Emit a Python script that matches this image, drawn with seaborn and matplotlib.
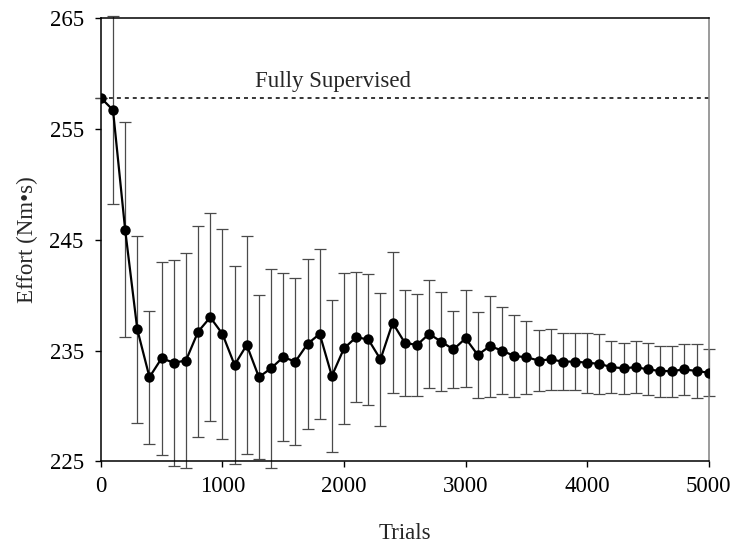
import numpy as np
import pandas as pd
import matplotlib
matplotlib.use("Agg")
import matplotlib.pyplot as plt
import seaborn as sns

# ----------------------------
# DANE
# ----------------------------
trials = list(range(0, 5001, 100))

effort = [
    257.8, 256.7, 245.9, 236.9, 232.6, 234.3, 233.9, 234.1, 236.7, 238.0,
    236.5, 233.7, 235.5, 232.6, 233.4, 234.4, 234.0, 235.6, 236.5, 232.7,
    235.2, 236.2, 236.0, 234.2, 237.5, 235.7, 235.5, 236.5, 235.8, 235.1,
    236.1, 234.6, 235.4, 235.0, 234.5, 234.4, 234.1, 234.2, 234.0, 234.0,
    233.9, 233.8, 233.5, 233.4, 233.5, 233.3, 233.15, 233.15, 233.3, 233.15,
    233.0,
]

effort_sd = [
    0.0, 8.5, 9.7, 8.4, 6.0, 8.7, 9.3, 9.7, 9.5, 9.4,
    9.45, 8.9, 9.8, 7.4, 9.0, 7.6, 7.5, 7.7, 7.65, 6.85,
    6.8, 5.85, 5.9, 6.0, 6.35, 4.8, 4.6, 4.9, 4.45, 3.5,
    4.35, 3.9, 4.55, 3.95, 3.7, 3.3, 2.75, 2.75, 2.55, 2.6,
    2.7, 2.7, 2.35, 2.3, 2.35, 2.35, 2.3, 2.3, 2.3, 2.4,
    2.1,
]

fully_supervised = 257.8

x_ticks = [0, 1000, 2000, 3000, 4000, 5000]
y_ticks = [225, 235, 245, 255, 265]

# ----------------------------
# WYKRES
# ----------------------------
sns.set_style("ticks")
plt.rcParams["font.family"] = ["Liberation Serif", "DejaVu Serif"]

df = pd.DataFrame({"Trials": trials, "Effort": effort, "sd": effort_sd})

fig = plt.figure(figsize=(7.36, 5.46), dpi=100)
ax = fig.add_axes([0.137, 0.155, 0.826, 0.812])

# slupki bledow (bez kropek - te rysuje seaborn)
ax.errorbar(df["Trials"], df["Effort"], yerr=df["sd"], fmt="none",
            ecolor="#4a4a4a", elinewidth=0.9, capsize=4.3, capthick=0.9,
            clip_on=False, zorder=2)

sns.lineplot(data=df, x="Trials", y="Effort", ax=ax, color="black",
             linewidth=1.6, marker="o", markersize=7.5, markeredgewidth=0,
             zorder=3)

# linia odniesienia
ax.plot([0, 5000], [fully_supervised, fully_supervised], color="black",
        linewidth=1.1, linestyle=(0, (2.6, 2.6)), zorder=1)
ax.text(1910, 259.3, "Fully Supervised", fontsize=16.5,
        ha="center", va="center")

ax.set_xlim(0, 5000)
ax.set_ylim(225, 265)
ax.set_xticks(x_ticks)
ax.set_yticks(y_ticks)
ax.tick_params(direction="out", length=4.3, width=1, labelsize=16.5,
               color="black", labelcolor="black")
ax.tick_params(axis="x", pad=6)
ax.tick_params(axis="y", pad=8)

ax.set_xlabel("Trials", fontsize=16.5, labelpad=19)
ax.set_ylabel("Effort (Nm\u2022s)", fontsize=16.5, labelpad=8)

for side in ["left", "bottom", "top"]:
    ax.spines[side].set_color("black")
    ax.spines[side].set_linewidth(1.1)
ax.spines["right"].set_color("#808080")
ax.spines["right"].set_linewidth(1.1)

fig.savefig("out.png", dpi=100)
plt.close(fig)
